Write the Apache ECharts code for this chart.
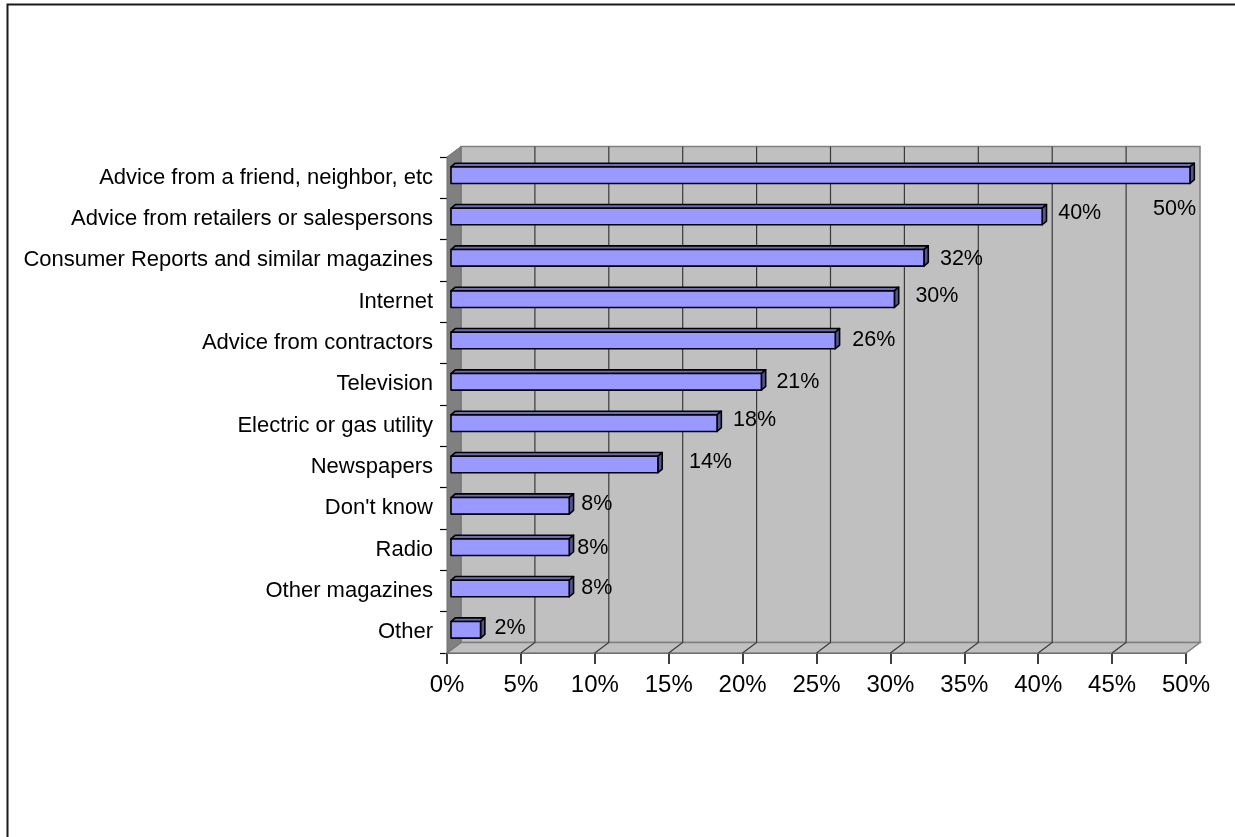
<!DOCTYPE html>
<html>
<head>
<meta charset="utf-8">
<script src="https://cdn.jsdelivr.net/npm/echarts@6/dist/echarts.min.js"></script>
<style>
  html, body { margin: 0; padding: 0; background: #ffffff; }
  #chart { width: 1235px; height: 837px; }
</style>
</head>
<body>
<div id="chart"></div>
<script>
// Information sources, share of respondents (%)
const categories = [
  'Advice from a friend, neighbor, etc',
  'Advice from retailers or salespersons',
  'Consumer Reports and similar magazines',
  'Internet',
  'Advice from contractors',
  'Television',
  'Electric or gas utility',
  'Newspapers',
  "Don't know",
  'Radio',
  'Other magazines',
  'Other'
];
const shares = [50, 40, 32, 30, 26, 21, 18, 14, 8, 8, 8, 2];
const axisMin = 0;
const axisMax = 50;
const axisStep = 5;

// ---- styling ----
const FONT = '"Liberation Sans", Arial, Helvetica, sans-serif';
const DEPTH_X = 14;      // horizontal depth of the 3D box
const DEPTH_Y = 10.5;    // vertical depth of the 3D box
const BAR_SHIFT_X = 4;   // bar front face sits slightly inside the box
const BAR_SHIFT_Y = 2.5;
const BAR_DEPTH_X = 4.3;
const BAR_DEPTH_Y = 3.7;
const BAR_RATIO = 0.4;
// per-bar label nudges [dx, dy] from the bar end
const labelNudge = [[-37, 34], [16, -3], [16, 1], [21, -3], [17, 0], [15, 0],
                    [16, -3], [31, -2], [12, -2], [8, 1], [12, 0], [14, -2]];

const chart = echarts.init(document.getElementById('chart'), null, { renderer: 'canvas' });

function renderFrame(params, api) {
  const n = categories.length;
  const band = api.size([0, 1])[1];
  const top = api.coord([axisMin, 0])[1] - band / 2;
  const bottom = api.coord([axisMin, n - 1])[1] + band / 2;
  const x0 = api.coord([axisMin, 0])[0];
  const x1 = api.coord([axisMax, 0])[0];
  const children = [];
  // back wall
  children.push({
    type: 'rect',
    shape: { x: x0 + DEPTH_X, y: top - DEPTH_Y, width: x1 - x0, height: bottom - top },
    style: { fill: '#c0c0c0', stroke: '#808080', lineWidth: 1.5 }
  });
  // floor
  children.push({
    type: 'polygon',
    shape: { points: [[x0, bottom], [x0 + DEPTH_X, bottom - DEPTH_Y], [x1 + DEPTH_X, bottom - DEPTH_Y], [x1, bottom]] },
    style: { fill: '#c0c0c0', stroke: '#808080', lineWidth: 1.5 }
  });
  // left side wall
  children.push({
    type: 'polygon',
    shape: { points: [[x0, top], [x0 + DEPTH_X, top - DEPTH_Y], [x0 + DEPTH_X, bottom - DEPTH_Y], [x0, bottom]] },
    style: { fill: '#808080', stroke: '#707070', lineWidth: 1 }
  });
  // gridlines across floor and up the back wall
  for (let v = axisMin + axisStep; v < axisMax; v += axisStep) {
    const x = api.coord([v, 0])[0];
    children.push({
      type: 'polyline',
      shape: { points: [[x, bottom], [x + DEPTH_X, bottom - DEPTH_Y], [x + DEPTH_X, top - DEPTH_Y]] },
      style: { fill: null, stroke: '#3a3a3a', lineWidth: 1.2 }
    });
  }
  return { type: 'group', children: children };
}

function renderBar(params, api) {
  const v = api.value(0);
  const i = api.value(1);
  const base = api.coord([axisMin, i]);
  const end = api.coord([v, i]);
  const band = api.size([0, 1])[1];
  const h = band * BAR_RATIO;
  const cy = base[1] - BAR_SHIFT_Y;
  const xl = base[0] + BAR_SHIFT_X;
  const xr = end[0] + BAR_SHIFT_X;
  const yt = cy - h / 2;
  const yb = cy + h / 2;
  const edge = { stroke: '#000000', lineWidth: 1.6, lineJoin: 'round' };
  const nudge = labelNudge[params.dataIndex] || [16, 0];
  return {
    type: 'group',
    children: [
      {
        type: 'polygon',
        shape: { points: [[xl, yt], [xl + BAR_DEPTH_X, yt - BAR_DEPTH_Y], [xr + BAR_DEPTH_X, yt - BAR_DEPTH_Y], [xr, yt]] },
        style: Object.assign({ fill: '#6c6cb8' }, edge)
      },
      {
        type: 'polygon',
        shape: { points: [[xr, yt], [xr + BAR_DEPTH_X, yt - BAR_DEPTH_Y], [xr + BAR_DEPTH_X, yb - BAR_DEPTH_Y], [xr, yb]] },
        style: Object.assign({ fill: '#56568f' }, edge)
      },
      {
        type: 'rect',
        shape: { x: xl, y: yt, width: xr - xl, height: h },
        style: Object.assign({ fill: '#9999ff' }, edge)
      },
      {
        type: 'text',
        x: xr + nudge[0],
        y: cy + nudge[1],
        style: {
          text: v + '%',
          fill: '#000000',
          fontSize: 21.5,
          fontFamily: FONT,
          align: 'left',
          verticalAlign: 'middle',
          textAlign: 'left',
          textVerticalAlign: 'middle'
        }
      }
    ]
  };
}

chart.setOption({
  backgroundColor: '#ffffff',
  animation: false,
  graphic: [{
    type: 'rect',
    left: 5, top: 2,
    shape: { x: 0, y: 0, width: 1300, height: 900 },
    style: { fill: null, stroke: '#1a1a1a', lineWidth: 2 },
    z: 100
  }],
  grid: { left: 447, right: 49, top: 157, bottom: 184, containLabel: false },
  xAxis: {
    type: 'value',
    min: axisMin,
    max: axisMax,
    interval: axisStep,
    axisLine: { show: true, lineStyle: { color: '#000000', width: 1.5 } },
    axisTick: { show: true, length: 11, lineStyle: { color: '#000000', width: 1.5 } },
    axisLabel: {
      formatter: '{value}%', color: '#000000', fontSize: 24, fontFamily: FONT, margin: 20
    },
    splitLine: { show: false }
  },
  yAxis: {
    type: 'category',
    data: categories,
    inverse: true,
    axisLine: { show: false },
    axisTick: { show: true, length: 7, lineStyle: { color: '#000000', width: 1.2 } },
    axisLabel: { color: '#000000', fontSize: 22, fontFamily: FONT, margin: 14 },
    splitLine: { show: false }
  },
  series: [
    {
      type: 'custom',
      name: 'frame',
      renderItem: renderFrame,
      data: [[axisMin, 0]],
      encode: { x: 0, y: 1 },
      clip: false,
      silent: true,
      z: 1
    },
    {
      type: 'custom',
      name: 'Share',
      renderItem: renderBar,
      data: shares.map(function (v, i) { return [v, i]; }),
      encode: { x: 0, y: 1 },
      clip: false,
      z: 3
    }
  ]
});
</script>
</body>
</html>
